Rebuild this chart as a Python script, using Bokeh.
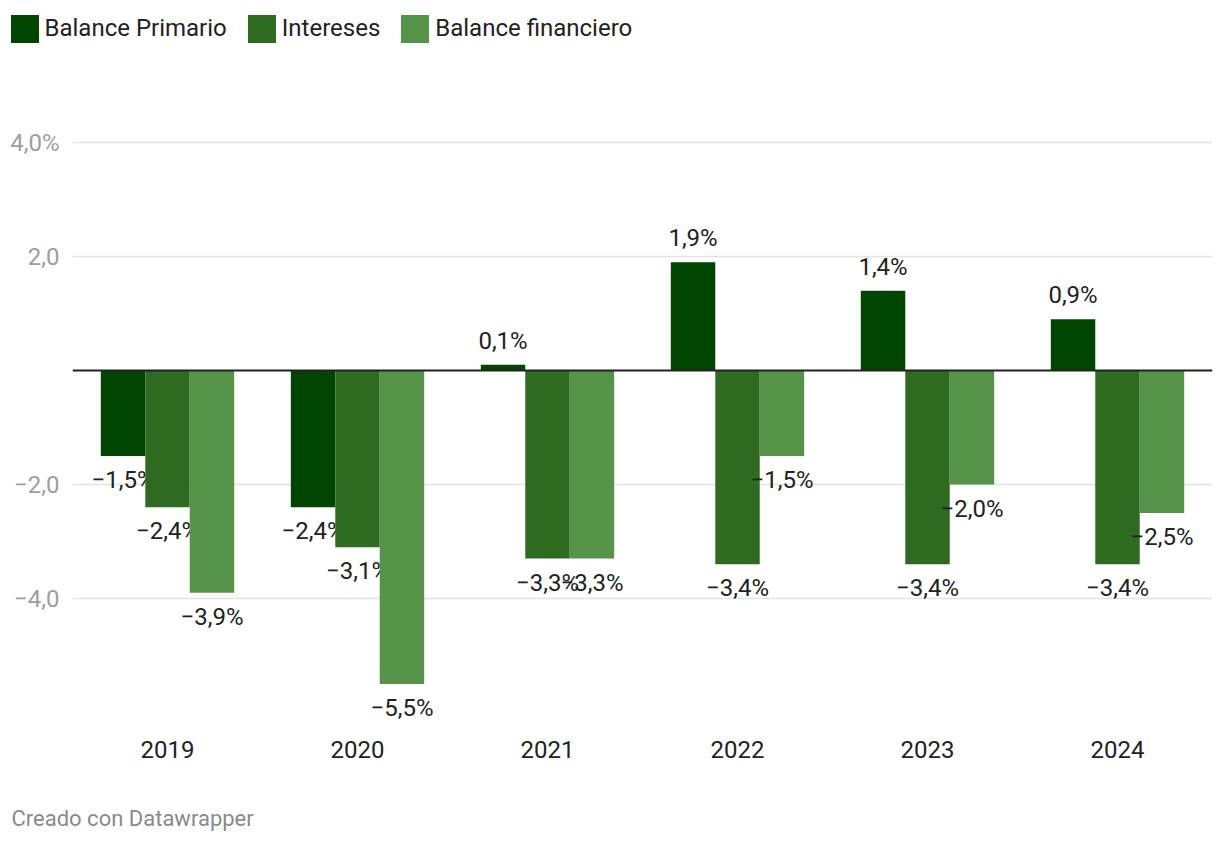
from bokeh.plotting import figure
from bokeh.layouts import column, row
from bokeh.models import (ColumnDataSource, FactorRange, Range1d, FixedTicker,
                          Span, Legend, LegendItem, Label)
from bokeh.transform import dodge
from bokeh.core.properties import value
from bokeh.embed import file_html
from bokeh.resources import INLINE

years = ["2019", "2020", "2021", "2022", "2023", "2024"]
balance_primario = [-1.5, -2.4, 0.1, 1.9, 1.4, 0.9]
intereses = [-2.4, -3.1, -3.3, -3.4, -3.4, -3.4]
balance_financiero = [-3.9, -5.5, -3.3, -1.5, -2.0, -2.5]
series_names = ["Balance Primario", "Intereses", "Balance financiero"]
series_values = [balance_primario, intereses, balance_financiero]
colors = ["#004600", "#2e6b21", "#559448"]
y_ticks = [-4, -2, 2, 4]
y_tick_labels = {-4: "\u22124,0", -2: "\u22122,0", 2: "2,0", 4: "4,0%"}
footer = "Creado con Datawrapper"

FONT = "Roboto"
FS = "24px"


def fmt(v):
    s = f"{abs(v):.1f}".replace(".", ",")
    return ("\u2212" if v < 0 else "") + s + "%"


sources = []
for vals in series_values:
    sources.append(ColumnDataSource(dict(
        x=years, y=vals,
        label=[fmt(v) for v in vals],
        yoff=[-24 if v >= 0 else 24 for v in vals],
    )))

# ---------------- legend strip ----------------
lg = figure(width=1220, height=56, output_backend="svg", toolbar_location=None,
            x_range=FactorRange(*years), y_range=Range1d(100, 101),
            x_axis_location=None, y_axis_location=None,
            min_border_left=0, min_border_right=0,
            min_border_top=0, min_border_bottom=0)
lg.grid.grid_line_color = None
lg.outline_line_color = None
leg_items = []
for name, col, src in zip(series_names, colors, sources):
    # same bars, outside this strip's visible range: only their legend keys show
    r = lg.vbar(x="x", top="y", bottom=0, width=0.2, source=src,
                fill_color=col, line_color=None)
    leg_items.append(LegendItem(label=name, renderers=[r]))
legend = Legend(items=leg_items, orientation="horizontal", location=(6.5, 10.5),
                glyph_width=35, glyph_height=35, label_standoff=3,
                spacing=17, padding=0, margin=0,
                border_line_color=None, background_fill_alpha=0,
                label_text_font=FONT, label_text_font_size=FS,
                label_text_color="#222222")
lg.add_layout(legend, "center")

# ---------------- main chart ----------------
p = figure(width=1220, height=728, output_backend="svg", toolbar_location=None,
           x_range=FactorRange(*years, range_padding=0),
           y_range=Range1d(-6.175, 4.737),
           min_border_left=72, min_border_right=8,
           min_border_top=44, min_border_bottom=62)
p.outline_line_color = None
p.background_fill_color = "white"
p.border_fill_color = "white"

p.yaxis.ticker = FixedTicker(ticks=y_ticks)
p.yaxis.major_label_overrides = y_tick_labels
p.yaxis.axis_line_color = None
p.yaxis.major_tick_line_color = None
p.yaxis.minor_tick_line_color = None
p.yaxis.major_label_text_font = FONT
p.yaxis.major_label_text_font_size = FS
p.yaxis.major_label_text_color = "#9e9e9e"
p.yaxis.major_label_standoff = 7

p.xaxis.axis_line_color = None
p.xaxis.major_tick_line_color = None
p.xaxis.minor_tick_line_color = None
p.xaxis.major_label_text_font = FONT
p.xaxis.major_label_text_font_size = FS
p.xaxis.major_label_text_color = "#222222"
p.xaxis.major_label_standoff = 12

p.xgrid.grid_line_color = None
p.ygrid.grid_line_color = "#e3e3e3"
p.ygrid.grid_line_width = 1.5

offsets = [-0.234, 0.0, 0.234]
for src, col, off in zip(sources, colors, offsets):
    p.vbar(x=dodge("x", off, range=p.x_range), top="y", bottom=0,
           width=0.234, source=src, fill_color=col, line_color=None)
    p.text(x=dodge("x", off, range=p.x_range), y="y", text="label",
           y_offset="yoff", source=src, text_align="center",
           text_baseline="middle", text_font=value(FONT),
           text_font_size=FS, text_color="#222222")

p.add_layout(Span(location=0, dimension="width", line_color="#222222",
                  line_width=2))

# ---------------- footer strip ----------------
ft = figure(width=1220, height=60, output_backend="svg", toolbar_location=None,
            x_range=Range1d(0, 1), y_range=Range1d(0, 1),
            x_axis_location=None, y_axis_location=None,
            min_border_left=0, min_border_right=0,
            min_border_top=0, min_border_bottom=0)
ft.grid.grid_line_color = None
ft.outline_line_color = None
ft.add_layout(Label(x=11, y=26, x_units="screen", y_units="screen",
                    text=footer, text_font=FONT, text_font_size="22px",
                    text_color="#8a8a8a", text_baseline="middle"))

page = column(row(lg, spacing=0), p, row(ft, spacing=0), spacing=0)
open("out.html", "w").write(file_html(page, INLINE))
